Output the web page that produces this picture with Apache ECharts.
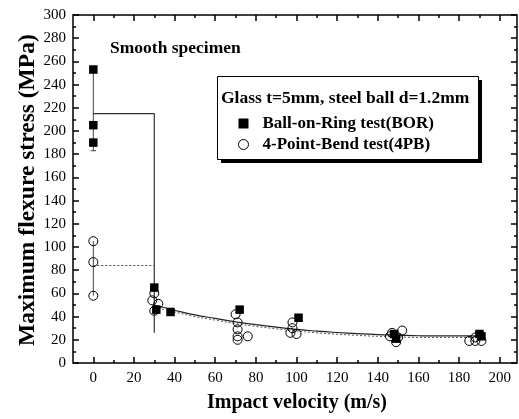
<!DOCTYPE html>
<html>
<head>
<meta charset="utf-8">
<script src="https://cdn.jsdelivr.net/npm/echarts@6/dist/echarts.min.js"></script>
<style>
  html, body { margin: 0; padding: 0; background: #fff; }
  #chart { width: 519px; height: 419px; }
</style>
</head>
<body>
<div id="chart"></div>
<script>
// measured points, Ball-on-Ring (filled squares)
const borPoints = [
  [0, 253], [0, 205], [0, 190],
  [30, 65], [31, 46], [38, 44],
  [72, 46], [101, 39],
  [148, 25], [149, 21],
  [190, 25], [191, 23]
];
// measured points, 4-Point-Bend (open circles)
const pbPoints = [
  [0, 105], [0, 87], [0, 58],
  [30, 60], [29, 54], [32, 51], [30, 45],
  [70, 42], [71, 35], [71, 29], [71, 23], [71, 20], [76, 23],
  [98, 35], [98, 30], [97, 26], [100, 25],
  [147, 26], [152, 28], [149, 18], [146, 23], [150, 22],
  [185, 19], [188, 19], [191, 19], [188, 22]
];
// fitted curves
const fitX = [30, 40, 50, 60, 70, 80, 90, 100, 110, 120, 130, 140, 150, 160, 170, 180, 190];
const borFit = [50, 45.5, 41.5, 38.5, 35.5, 33, 31, 29, 27.5, 26.3, 25.3, 24.5, 24, 23.5, 23.3, 23.3, 23.5];
const pbFit = [48, 44, 40, 37, 34, 31.5, 29.5, 27.5, 26, 24.8, 23.8, 23, 22.5, 22, 22, 22, 22.3];
// smooth specimen: scatter range and mean
const borRange = [[0, 255], [0, 183]];
const borCap = [[-1.3, 183], [1.3, 183]];
const borMean = [[0, 215], [30, 215], [30, 26]];
const pbRange = [[0, 105], [0, 58]];
const pbMean = [[0, 84], [30, 84]];
// ticks
const xMajor = [0, 20, 40, 60, 80, 100, 120, 140, 160, 180, 200];
const xMinor = [10, 30, 50, 70, 90, 110, 130, 150, 170, 190];

const serif = "Liberation Serif";
const ink = "#000";

function xAx(pos, ticks, len, labels) {
  return {
    type: "value", position: pos, min: -10, max: 208.5,
    axisLine: { show: false, onZero: false },
    axisTick: { show: true, inside: true, length: len, customValues: ticks, lineStyle: { color: ink, width: 1.5 } },
    axisLabel: labels ? { show: true, customValues: xMajor, fontFamily: serif, fontSize: 15, color: ink, margin: 8 } : { show: false },
    splitLine: { show: false }
  };
}
function yAx(pos, labels) {
  return {
    type: "value", position: pos, min: 0, max: 300, interval: 20,
    axisLine: { show: false, onZero: false },
    axisTick: { show: true, inside: true, length: 6, lineStyle: { color: ink, width: 1.5 } },
    minorTick: { show: true, splitNumber: 2, length: 3, lineStyle: { color: ink, width: 1.5 } },
    axisLabel: { show: labels, fontFamily: serif, fontSize: 15, color: ink, margin: 7 },
    splitLine: { show: false }
  };
}

const chart = echarts.init(document.getElementById("chart"), null, { renderer: "canvas" });
chart.setOption({
  animation: false,
  backgroundColor: "#fff",
  grid: { left: 73, top: 15, width: 444, height: 348, show: true, borderColor: ink, borderWidth: 1.5, backgroundColor: "transparent" },
  xAxis: [xAx("bottom", xMajor, 6, true), xAx("bottom", xMinor, 3, false),
          xAx("top", xMajor, 6, false), xAx("top", xMinor, 3, false)],
  yAxis: [yAx("left", true), yAx("right", false)],
  legend: {
    orient: "vertical", left: 233, top: 110, itemGap: 4, z: 20,
    itemWidth: 10, itemHeight: 10,
    textStyle: { fontFamily: serif, fontWeight: "bold", fontSize: 17, color: ink, padding: [0, 0, 0, 9] },
    data: [
      { name: "Ball-on-Ring test(BOR)", icon: "rect" },
      { name: "4-Point-Bend test(4PB)", icon: "circle", itemStyle: { color: "#fff", borderColor: ink, borderWidth: 1 } }
    ]
  },
  graphic: [
    { type: "rect", shape: { x: 221, y: 80, width: 261, height: 83 }, style: { fill: ink }, z: 10 },
    { type: "rect", shape: { x: 217.5, y: 76.5, width: 261, height: 83 }, style: { fill: "#fff", stroke: ink, lineWidth: 1 }, z: 11 },
    { type: "text", x: 221, y: 89, z: 12, style: { text: "Glass t=5mm, steel ball d=1.2mm", fontFamily: serif, fontWeight: "bold", fontSize: 17.5, fill: ink } },
    { type: "text", x: 110, y: 39, z: 12, style: { text: "Smooth specimen", fontFamily: serif, fontWeight: "bold", fontSize: 17.5, fill: ink } },
    { type: "text", x: 207, y: 393, style: { text: "Impact velocity (m/s)", fontFamily: serif, fontWeight: "bold", fontSize: 20, fill: ink } },
    { type: "text", rotation: Math.PI / 2, x: 16, y: 346, style: { text: "Maximum flexure stress (MPa)", fontFamily: serif, fontWeight: "bold", fontSize: 23.5, fill: ink } }
  ],
  series: [
    { type: "line", data: borRange, symbol: "none", silent: true, lineStyle: { color: "#444", width: 1 } },
    { type: "line", data: borCap, symbol: "none", silent: true, lineStyle: { color: "#444", width: 1 } },
    { type: "line", data: pbRange, symbol: "none", silent: true, lineStyle: { color: "#444", width: 1 } },
    { type: "line", data: borMean, symbol: "none", silent: true, lineStyle: { color: "#333", width: 1.2 } },
    { type: "line", data: pbMean, symbol: "none", silent: true, lineStyle: { color: "#444", width: 1, type: [2, 2] } },
    { type: "line", data: fitX.map((x, i) => [x, borFit[i]]), smooth: true, symbol: "none", silent: true, lineStyle: { color: "#222", width: 1.2 } },
    { type: "line", data: fitX.map((x, i) => [x, pbFit[i]]), smooth: true, symbol: "none", silent: true, lineStyle: { color: "#555", width: 1, type: [2, 2] } },
    { name: "Ball-on-Ring test(BOR)", type: "scatter", data: borPoints, symbol: "rect", symbolSize: 8.5, itemStyle: { color: ink, opacity: 1 }, z: 5 },
    { name: "4-Point-Bend test(4PB)", type: "scatter", data: pbPoints, symbol: "circle", symbolSize: 9, itemStyle: { color: "rgba(255,255,255,0)", borderColor: ink, borderWidth: 1, opacity: 1 }, z: 6 }
  ]
});
</script>
</body>
</html>
